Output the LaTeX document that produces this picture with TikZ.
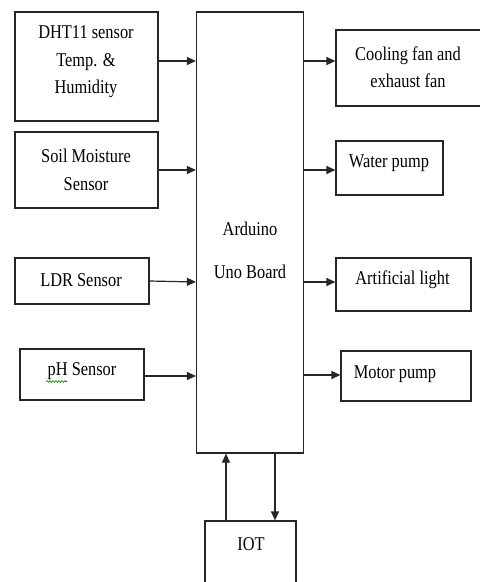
\documentclass[tikz,border=0pt]{standalone}
\usepackage{fontspec}
\setmainfont{Liberation Serif}[FakeStretch=0.84]
\usetikzlibrary{arrows.meta,decorations.pathmorphing}
\begin{document}
\begin{tikzpicture}[x=1pt,y=-1pt,
  box/.style={draw=black!85,line width=1.2pt,inner sep=0pt},
  lbl/.style={font=\fontsize{19.5}{27.5}\selectfont,align=center,inner sep=0pt,text=black},
  arr/.style={draw=black!85,line width=1.2pt,-{Triangle[length=9pt,width=8pt]}}]
\useasboundingbox (0,0) rectangle (480,582);
\clip (0,0) rectangle (480,582);
% boxes
\node[box,minimum width=143,minimum height=109] (dht) at (86.5,66.5) {};
\node[box,minimum width=143,minimum height=76] (soil) at (86.5,170) {};
\node[box,minimum width=134,minimum height=46] (ldr) at (82,281) {};
\node[box,minimum width=124,minimum height=51] (ph) at (82,374.5) {};
\node[box,minimum width=107,minimum height=441] (ard) at (250,232.5) {};
\node[box,minimum width=146,minimum height=76] (cool) at (409,68) {};
\node[box,minimum width=107,minimum height=54] (water) at (389.5,168) {};
\node[box,minimum width=135,minimum height=53] (light) at (403.5,284.5) {};
\node[box,minimum width=130,minimum height=50] (motor) at (406,376) {};
\node[box,minimum width=91,minimum height=90] (iot) at (250.5,566) {};
% texts
\node[lbl] (dhtT) at (86,62) {DHT11 sensor\\Temp. \&\\Humidity};
\node[lbl] (soilT) at (86,170) {Soil Moisture\\Sensor};
\node[lbl] (ldrT) at (81,280) {LDR Sensor};
\node[lbl] (phT) at (82,371) {pH Sensor};
\node[lbl] (ardT1) at (250,229) {Arduino};
\node[lbl] (ardT2) at (250,272) {Uno Board};
\node[lbl] (coolT) at (408,67) {Cooling fan and\\exhaust fan};
\node[lbl] (waterT) at (389,163) {Water pump};
\node[lbl] (lightT) at (402.5,280) {Artificial light};
\node[lbl] (motorT) at (395,374) {Motor pump};
\node[lbl] (iotT) at (251,544) {IOT};
% spell-check squiggle under pH
\coordinate (sq1) at (46,381.5);
\coordinate (sq2) at (67,381.5);
\draw[green!50!black,line width=0.6pt,decorate,decoration={snake,amplitude=0.9pt,segment length=3pt}] (sq1) -- (sq2);
% connectors
\draw[arr] (dht.east |- 0,61) -- (ard.west |- 0,61);
\draw[arr] (soil.east |- 0,170) -- (ard.west |- 0,170);
\draw[arr] (ldr.east |- 0,281) -- (ard.west |- 0,282);
\draw[arr] (ph.east |- 0,376) -- (ard.west |- 0,376);
\draw[arr] (ard.east |- 0,61) -- (cool.west |- 0,61);
\draw[arr] (ard.east |- 0,170) -- (water.west |- 0,170);
\draw[arr] (ard.east |- 0,282) -- (light.west |- 0,282);
\draw[arr] (ard.east |- 0,375) -- (motor.west |- 0,375);
\draw[arr] (iot.north -| 226,0) -- (ard.south -| 226,0);
\draw[arr] (ard.south -| 275,0) -- (iot.north -| 275,0);
\end{tikzpicture}
\end{document}
